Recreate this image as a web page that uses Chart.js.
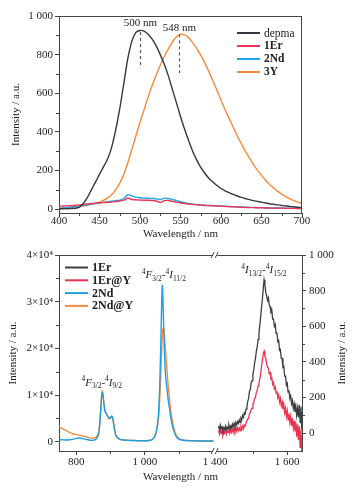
<!DOCTYPE html>
<html>
<head>
<meta charset="utf-8">
<script src="https://cdn.jsdelivr.net/npm/chart.js@4.4.0/dist/chart.umd.min.js"></script>
<style>
html, body { margin: 0; padding: 0; background: #fff; }
#wrap { position: relative; width: 363px; height: 491px; overflow: hidden; }
#top { position: absolute; left: 0; top: 0; }
#bot { position: absolute; left: 0; top: 240px; }
</style>
</head>
<body>
<div id="wrap">
  <canvas id="top" width="363" height="240"></canvas>
  <canvas id="bot" width="363" height="251"></canvas>
</div>
<script>
// ---- top panel: visible emission (nm, a.u.)
var topWl = [400,405,410,415,420,425,430,435,440,445,450,455,460,465,470,475,480,485,490,495,500,505,510,515,520,525,530,535,540,545,550,555,560,565,570,575,580,585,590,595,600,605,610,615,620,625,630,635,640,645,650,655,660,665,670,675,680,685,690,695,700];
var depma = [2,3,2,3,4,10,30,60,100,140,180,220,260,320,410,520,650,780,870,915,925,922,905,880,845,800,750,690,620,550,480,415,355,300,255,216,186,160,140,122,107,95,85,76,68,61,55,49,44,40,36,32,28,25,22,19,16,14,12,10,9];
var er1Top = [15,16,17,18,20,22,25,27,29,31,33,34,35,37,39,42,47,56,50,48,47,46,46,45,42,34,44,45,40,36,32,29,26,24,22,21,19,18,17,16,15,14,13,12,11,10,9,8,8,7,7,6,6,5,5,5,4,4,4,3,3];
var nd2Top = [4,6,8,11,14,17,20,23,26,29,32,35,38,41,44,47,55,75,68,62,59,57,56,55,54,50,57,55,50,44,38,33,29,26,24,22,20,19,18,17,16,15,14,13,12,11,10,9,9,8,8,7,7,6,6,6,5,5,5,4,4];
var y3Top = [0,2,4,6,9,12,16,20,25,30,36,45,58,75,100,135,180,240,310,380,450,515,580,640,695,745,790,830,865,893,905,902,888,862,832,797,757,712,665,615,565,515,470,425,380,340,300,265,232,202,175,150,128,110,92,78,65,54,44,36,30];
var topYTicks = [0,200,400,600,800,1000];
var topYMinor = [100,300,500,700,900];
var topXTicks = [400,450,500,550,600,650,700];
var topXMinor = [425,475,525,575,625,675];

// ---- bottom panel: NIR emission, Nd part (left axis)
var ndWl = [750,760,770,780,790,800,810,820,830,840,850,855,860,865,868,871,874,876,878,881,884,888,892,896,900,904,907,910,913,916,920,925,930,940,950,960,970,980,990,1000,1010,1020,1025,1030,1035,1040,1043,1046,1049,1051,1053,1056,1059,1062,1065,1068,1072,1076,1080,1085,1090,1095,1100,1110,1120,1140,1160,1180,1200];
var nd2 = [400,400,350,400,500,700,800,600,500,300,300,400,700,1500,3000,6000,9500,10500,10000,8000,6500,6000,5500,5000,5200,5500,5000,3500,2200,1400,900,600,450,350,300,250,250,200,200,200,250,400,700,1300,2800,6000,11000,19000,29000,33500,30000,22000,16000,13000,11000,9000,7000,5000,3500,2200,1300,800,500,300,250,200,150,150,150];
var nd2Y = [3200,2800,2400,2000,1700,1500,1400,1200,1000,800,700,800,1100,2000,3500,6500,9800,10900,10300,8200,6600,6000,5400,4900,5000,5300,4800,3300,2100,1300,900,600,450,350,300,250,250,200,200,200,250,400,700,1200,2500,5000,8500,13500,19000,22500,24300,24000,21000,18000,15000,12000,9000,6500,4500,2800,1700,1000,650,350,250,200,150,150,150];
// Er part (right axis)
var erWl = [1400,1402.5,1405,1407.5,1410,1412.5,1415,1417.5,1420,1422.5,1425,1427.5,1430,1432.5,1435,1437.5,1440,1442.5,1445,1447.5,
  1450,1452.5,1455,1457.5,1460,1462.5,1465,1467.5,1470,1472.5,1475,1477.5,1480,1482.5,1485,1487.5,1490,1492.5,1495,1497.5,
  1500,1502.5,1505,1507.5,1510,1512.5,1515,1517.5,1520,1522.5,1525,1527.5,1530,1532.5,1535,1537.5,1540,1542.5,1545,1547.5,
  1550,1552.5,1555,1557.5,1560,1562.5,1565,1567.5,1570,1572.5,1575,1577.5,1580,1582.5,1585,1587.5,1590,1592.5,1595,1597.5,
  1600,1602.5,1605,1607.5,1610,1612.5,1615,1617.5,1620,1622.5,1625,1627.5,1630,1632.5,1635,1637.5,1640,1642.5,1645];
var er1 = [40,20,45,25,35,15,30,20,40,20,35,25,45,25,40,30,50,35,55,40,
  60,45,65,55,75,60,85,75,100,90,115,110,135,150,180,195,235,245,285,295,
  335,355,395,420,460,485,525,560,605,650,705,750,810,860,830,790,770,745,760,720,
  710,680,690,640,640,600,610,560,565,515,520,465,470,420,420,370,375,320,320,270,
  280,230,240,195,210,165,185,140,165,120,150,100,140,90,160,60,150,20,130];
var er1Y = [15,-5,20,0,15,-10,10,0,20,-5,15,5,20,0,20,5,25,5,25,10,
  30,10,30,15,30,15,35,20,40,25,45,40,60,60,80,85,110,115,135,140,
  165,170,195,200,230,240,265,275,305,330,375,405,445,460,430,420,390,370,365,335,
  340,305,310,275,285,250,260,225,235,200,215,175,195,155,175,135,160,115,140,95,
  125,75,110,60,95,40,85,30,70,10,60,-20,50,-40,40,-80,20,-100,-60];
var botYTicks = [0,10000,20000,30000,40000];
var botYLabels = ['0','1×10⁴','2×10⁴','3×10⁴','4×10⁴'];
var botYMinor = [5000,15000,25000,35000];
var rYTicks = [0,200,400,600,800,1000];
var rYMinor = [100,300,500,700,900];
var botXTicks = [800,1000,1400,1600];
var botXMinor = [900,1100,1500];

// broken axis: 1400-1645 nm drawn just after 1200 nm
var BREAK_AT = 1300, ER_SHIFT = 185, BREAK_T = 1205;
function tx(wl) { return wl > BREAK_AT ? wl - ER_SHIFT : wl; }
function pts(xs, ys) { return xs.map(function (x, i) { return { x: tx(x), y: ys[i] }; }); }
function thousand(v) { return v >= 1000 ? String(v).replace(/(\d)(\d{3})$/, '$1 $2') : String(v); }

var FONT = "'Liberation Serif', 'DejaVu Serif', serif";
Chart.defaults.font.family = FONT;
Chart.defaults.font.size = 11;
Chart.defaults.color = '#222';
var AX = '#444';

var framePlugin = {
  id: 'frame',
  afterDraw: function (chart, args, o) {
    var ctx = chart.ctx, a = chart.chartArea;
    ctx.save();
    ctx.strokeStyle = AX; ctx.lineWidth = 1;
    ctx.beginPath();
    ctx.moveTo(a.left, Math.round(a.top) + 0.5); ctx.lineTo(a.right, Math.round(a.top) + 0.5);
    if (o.rightLine) { ctx.moveTo(Math.round(a.right) - 0.5, a.top); ctx.lineTo(Math.round(a.right) - 0.5, a.bottom); }
    ctx.stroke();
    (o.minor || []).forEach(function (m) {
      var s = chart.scales[m.id];
      m.values.forEach(function (v) {
        var p = Math.round(s.getPixelForValue(v)) + 0.5;
        ctx.beginPath();
        if (s.isHorizontal()) { ctx.moveTo(p, a.bottom); ctx.lineTo(p, a.bottom + 3); }
        else if (s.position === 'left') { ctx.moveTo(a.left, p); ctx.lineTo(a.left - 3, p); }
        else { ctx.moveTo(a.right, p); ctx.lineTo(a.right + 3, p); }
        ctx.stroke();
      });
    });
    if (o.brk) {
      var bx = chart.scales.x.getPixelForValue(o.brk);
      [a.top, a.bottom].forEach(function (yy) {
        ctx.fillStyle = '#fff';
        ctx.fillRect(bx - 2, yy - 2, 4, 4);
        ctx.beginPath();
        ctx.moveTo(bx - 4, yy + 3); ctx.lineTo(bx - 1, yy - 3);
        ctx.moveTo(bx, yy + 3); ctx.lineTo(bx + 3, yy - 3);
        ctx.stroke();
      });
    }
    // right-hand axis title, read bottom to top like the left one
    if (o.rightTitle) {
      ctx.translate(o.rightTitle.x, (a.top + a.bottom) / 2);
      ctx.rotate(-Math.PI / 2);
      ctx.fillStyle = '#222'; ctx.font = '11px ' + FONT;
      ctx.textAlign = 'center'; ctx.textBaseline = 'middle';
      ctx.fillText(o.rightTitle.text, 0, 0);
    }
    ctx.restore();
  }
};

var legendPlugin = {
  id: 'boxLegend',
  afterDraw: function (chart, args, o) {
    var ctx = chart.ctx;
    ctx.save();
    ctx.textBaseline = 'middle';
    chart.data.datasets.forEach(function (ds, i) {
      var y = o.y + i * o.dy;
      ctx.strokeStyle = ds.borderColor; ctx.lineWidth = 2;
      ctx.beginPath(); ctx.moveTo(o.x, y); ctx.lineTo(o.x + o.len, y); ctx.stroke();
      ctx.fillStyle = '#222';
      ctx.font = (o.bold[i] ? 'bold ' : '') + o.size + 'px ' + FONT;
      ctx.fillText(ds.label, o.x + o.len + 4, y + 0.5);
    });
    ctx.restore();
  }
};

// text with super/subscripts: [text, kind] kind = '', 'it', 'sup', 'sub'
function drawSpec(ctx, cx, cy, parts) {
  var big = '11px ' + FONT, bigI = 'italic 11px ' + FONT, small = '7.5px ' + FONT;
  function fontOf(k) { return k === 'it' ? bigI : (k === 'sup' || k === 'sub') ? small : big; }
  var w = 0;
  parts.forEach(function (p) { ctx.font = fontOf(p[1]); w += ctx.measureText(p[0]).width; });
  var x = cx - w / 2;
  ctx.textBaseline = 'alphabetic';
  ctx.fillStyle = '#222';
  parts.forEach(function (p) {
    ctx.font = fontOf(p[1]);
    var dy = p[1] === 'sup' ? -4.5 : p[1] === 'sub' ? 2.5 : 0;
    ctx.fillText(p[0], x, cy + 4 + dy);
    x += ctx.measureText(p[0]).width;
  });
}

var topNotes = [
  { x: 500, y1: 917, y2: 730, ty: 962, text: '500 nm' },
  { x: 548, y1: 905, y2: 705, ty: 938, text: '548 nm' }
];
var topNotePlugin = {
  id: 'peakNotes',
  afterDraw: function (chart) {
    var ctx = chart.ctx, sx = chart.scales.x, sy = chart.scales.y;
    ctx.save();
    topNotes.forEach(function (n) {
      var px = Math.round(sx.getPixelForValue(n.x)) + 0.5;
      ctx.strokeStyle = '#555'; ctx.lineWidth = 1.2; ctx.setLineDash([3, 3]);
      ctx.beginPath(); ctx.moveTo(px, sy.getPixelForValue(n.y1)); ctx.lineTo(px, sy.getPixelForValue(n.y2)); ctx.stroke();
      ctx.setLineDash([]);
      ctx.fillStyle = '#222'; ctx.font = '11px ' + FONT; ctx.textAlign = 'center'; ctx.textBaseline = 'middle';
      ctx.fillText(n.text, px, sy.getPixelForValue(n.ty));
    });
    ctx.restore();
  }
};

var botNotes = [
  { x: 874.6, y: 12800, axis: 'y', parts: [['4','sup'],['F','it'],['3/2','sub'],['-',''],['4','sup'],['I','it'],['9/2','sub']] },
  { x: 1055.5, y: 35900, axis: 'y', parts: [['4','sup'],['F','it'],['3/2','sub'],['-',''],['4','sup'],['I','it'],['11/2','sub']] },
  { x: tx(1532), y: 920, axis: 'y2', parts: [['4','sup'],['I','it'],['13/2','sub'],['-',''],['4','sup'],['I','it'],['15/2','sub']] }
];
var botNotePlugin = {
  id: 'transNotes',
  afterDraw: function (chart) {
    var ctx = chart.ctx;
    ctx.save();
    botNotes.forEach(function (n) {
      drawSpec(ctx, chart.scales.x.getPixelForValue(n.x), chart.scales[n.axis].getPixelForValue(n.y), n.parts);
    });
    ctx.restore();
  }
};

function yAxis(opts) {
  return Object.assign({
    type: 'linear',
    grid: { drawOnChartArea: false, tickLength: 4, color: AX, tickColor: AX },
    border: { color: AX, width: 1 }
  }, opts);
}

new Chart(document.getElementById('top'), {
  type: 'line',
  data: {
    datasets: [
      { label: 'depma', data: pts(topWl, depma), borderColor: '#34383d' },
      { label: '1Er', data: pts(topWl, er1Top), borderColor: '#ec3557' },
      { label: '2Nd', data: pts(topWl, nd2Top), borderColor: '#1ea5e6' },
      { label: '3Y', data: pts(topWl, y3Top), borderColor: '#f7893a' }
    ]
  },
  options: {
    responsive: false,
    animation: false,
    elements: { point: { radius: 0 }, line: { borderWidth: 1.4, tension: 0.3 } },
    layout: { padding: { top: 16, right: 61, left: 0, bottom: 0 } },
    plugins: {
      legend: { display: false },
      tooltip: { enabled: false },
      frame: { rightLine: true, minor: [{ id: 'x', values: topXMinor }, { id: 'y', values: topYMinor }] },
      boxLegend: { x: 237, y: 33, dy: 13, len: 23, size: 11.5, bold: [false, true, true, true] }
    },
    scales: {
      x: {
        type: 'linear', min: 400, max: 700,
        afterFit: function (s) { s.height = 27; },
        afterBuildTicks: function (s) { s.ticks = topXTicks.map(function (v) { return { value: v }; }); },
        ticks: { padding: -2, maxRotation: 0, autoSkip: false },
        grid: { drawOnChartArea: false, tickLength: 4, color: AX, tickColor: AX },
        border: { color: AX, width: 1 },
        title: { display: true, text: 'Wavelength / nm', font: { size: 11, lineHeight: 1 }, padding: { top: 0, bottom: 0 } }
      },
      y: yAxis({
        min: -20, max: 1000,
        afterFit: function (s) { s.width = 59; },
        afterBuildTicks: function (s) { s.ticks = topYTicks.map(function (v) { return { value: v }; }); },
        ticks: { padding: 2, callback: function (v) { return thousand(v); } },
        title: { display: true, text: 'Intensity / a.u.', font: { size: 11, lineHeight: 1 }, padding: { top: 10.5, bottom: 0 } }
      })
    }
  },
  plugins: [framePlugin, legendPlugin, topNotePlugin]
});

new Chart(document.getElementById('bot'), {
  type: 'line',
  data: {
    datasets: [
      { label: '1Er', data: pts(erWl, er1), borderColor: '#3a3f44', yAxisID: 'y2', tension: 0, borderWidth: 1.3 },
      { label: '1Er@Y', data: pts(erWl, er1Y), borderColor: '#ea3450', yAxisID: 'y2', tension: 0, borderWidth: 1.3 },
      { label: '2Nd', data: pts(ndWl, nd2), borderColor: '#1e9fe0', yAxisID: 'y' },
      { label: '2Nd@Y', data: pts(ndWl, nd2Y), borderColor: '#f58d46', yAxisID: 'y' }
    ]
  },
  options: {
    responsive: false,
    animation: false,
    elements: { point: { radius: 0 }, line: { borderWidth: 1.4, tension: 0.25 } },
    layout: { padding: { top: 15, right: 0, left: 0, bottom: 0 } },
    plugins: {
      legend: { display: false },
      tooltip: { enabled: false },
      frame: {
        rightLine: false, brk: BREAK_T,
        rightTitle: { x: 341.7, text: 'Intensity / a.u.' },
        minor: [{ id: 'x', values: botXMinor.map(tx) }, { id: 'y', values: botYMinor }, { id: 'y2', values: rYMinor }]
      },
      boxLegend: { x: 65, y: 27.5, dy: 12.8, len: 23, size: 12, bold: [true, true, true, true] }
    },
    scales: {
      x: {
        type: 'linear', min: 750, max: tx(1643),
        afterFit: function (s) { s.height = 40; },
        afterBuildTicks: function (s) {
          s.ticks = botXTicks.map(function (v) { return { value: v === 1400 ? BREAK_T : tx(v) }; });
        },
        ticks: {
          padding: 1, maxRotation: 0, autoSkip: false,
          callback: function (v) { return v === BREAK_T ? '1 400' : thousand(v > 1250 ? v + ER_SHIFT : v); }
        },
        grid: {
          drawOnChartArea: false, tickLength: 4, color: AX,
          tickColor: function (c) { return c.tick && c.tick.value === BREAK_T ? 'rgba(0,0,0,0)' : AX; }
        },
        border: { color: AX, width: 1 },
        title: { display: true, text: 'Wavelength / nm', font: { size: 11, lineHeight: 1 }, padding: { top: 0, bottom: 8.5 } }
      },
      y: yAxis({
        position: 'left', min: -2000, max: 40000,
        afterFit: function (s) { s.width = 59; },
        afterBuildTicks: function (s) { s.ticks = botYTicks.map(function (v) { return { value: v }; }); },
        ticks: { padding: 2, callback: function (v) { return botYLabels[botYTicks.indexOf(v)]; } },
        title: { display: true, text: 'Intensity / a.u.', font: { size: 11, lineHeight: 1 }, padding: { top: 8, bottom: 0 } }
      }),
      y2: yAxis({
        position: 'right', min: -100, max: 1000,
        afterFit: function (s) { s.width = 61; },
        afterBuildTicks: function (s) { s.ticks = rYTicks.map(function (v) { return { value: v }; }); },
        ticks: { padding: 3, callback: function (v) { return thousand(v); } },
        title: { display: false }
      })
    }
  },
  plugins: [framePlugin, legendPlugin, botNotePlugin]
});
</script>
</body>
</html>
